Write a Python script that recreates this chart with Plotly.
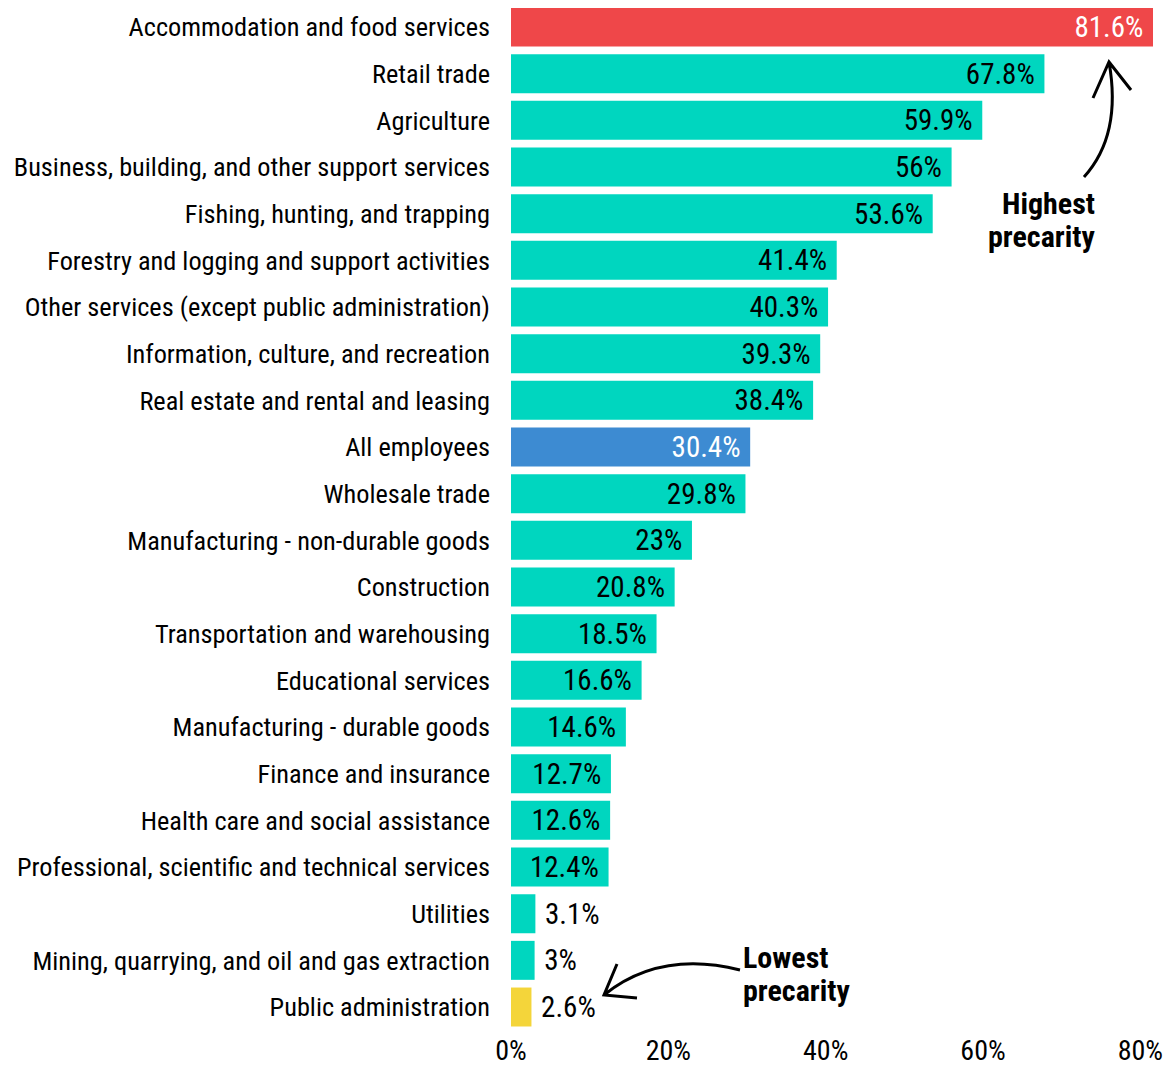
import plotly.graph_objects as go

categories = [
    "Accommodation and food services",
    "Retail trade",
    "Agriculture",
    "Business, building, and other support services",
    "Fishing, hunting, and trapping",
    "Forestry and logging and support activities",
    "Other services (except public administration)",
    "Information, culture, and recreation",
    "Real estate and rental and leasing",
    "All employees",
    "Wholesale trade",
    "Manufacturing - non-durable goods",
    "Construction",
    "Transportation and warehousing",
    "Educational services",
    "Manufacturing - durable goods",
    "Finance and insurance",
    "Health care and social assistance",
    "Professional, scientific and technical services",
    "Utilities",
    "Mining, quarrying, and oil and gas extraction",
    "Public administration",
]
values = [81.6, 67.8, 59.9, 56, 53.6, 41.4, 40.3, 39.3, 38.4, 30.4, 29.8, 23,
          20.8, 18.5, 16.6, 14.6, 12.7, 12.6, 12.4, 3.1, 3, 2.6]
tick_values = [0, 20, 40, 60, 80]
tick_labels = ["0%", "20%", "40%", "60%", "80%"]

RED = "#EF4749"
TEAL = "#00D6BF"
BLUE = "#3D8BD2"
YELLOW = "#F4D53A"

def bar_color(cat):
    if cat == "Accommodation and food services":
        return RED
    if cat == "All employees":
        return BLUE
    if cat == "Public administration":
        return YELLOW
    return TEAL

colors = [bar_color(c) for c in categories]
text_colors = ["white" if c in (RED, BLUE) else "black" for c in colors]
NB = "\u00a0"
positions = ["inside" if v >= 10 else "outside" for v in values]
labels = [f"{v:g}%{NB}" if p == "inside" else f"{NB}{v:g}%" for v, p in zip(values, positions)]

FONT = "Roboto Condensed, Liberation Sans Narrow, DejaVu Sans Condensed, Roboto, sans-serif"
FS_Y = 26.3
FS_V = 29
FS_X = 28
FS_A = 30

fig = go.Figure(go.Bar(
    x=values, y=categories, orientation="h",
    marker=dict(color=colors, line=dict(width=0)),
    text=labels, textposition=positions, insidetextanchor="end",
    insidetextfont=dict(color=text_colors, size=FS_V, family=FONT),
    outsidetextfont=dict(color="black", size=FS_V, family=FONT),
    constraintext="none", cliponaxis=False,
))

# page body has an 8px offset; figure coordinates below are reference pixels minus 8
OFF = 8
W, H = 1173 - OFF, 1069 - OFF
L, R, T, B = 511 - OFF, 20, 0, 31
pw, ph = W - L - R, H - T - B

def px(x):
    return (x - OFF - L) / pw

def py(y):
    return (H - B - (y - OFF)) / ph

hi_path = (f"M {px(1084)},{py(177)} Q {px(1122)},{py(135)} {px(1109)},{py(62)}"
           f" M {px(1093)},{py(98)} L {px(1109)},{py(62)} L {px(1131)},{py(90)}")
lo_path = (f"M {px(740)},{py(970)} Q {px(660)},{py(950)} {px(604)},{py(995)}"
           f" M {px(617)},{py(964)} L {px(604)},{py(995)} L {px(637)},{py(998)}")

shapes = [
    dict(type="path", xref="paper", yref="paper", path=hi_path,
         line=dict(color="black", width=3)),
    dict(type="path", xref="paper", yref="paper", path=lo_path,
         line=dict(color="black", width=3)),
]

def ann(text, x, y, anchor):
    return dict(xref="paper", yref="paper", x=px(x), y=py(y), text=f"<b>{text}</b>",
                showarrow=False, xanchor=anchor, yanchor="middle",
                font=dict(size=FS_A, family=FONT, color="black"))

annotations = [
    ann("Highest", 1097, 203, "right"),
    ann("precarity", 1097, 236, "right"),
    ann("Lowest", 741, 957, "left"),
    ann("precarity", 741, 990, "left"),
]

fig.update_layout(
    width=W, height=H,
    margin=dict(l=L, r=R, t=T, b=B, autoexpand=False),
    plot_bgcolor="white", paper_bgcolor="white",
    bargap=0.165, showlegend=False,
    font=dict(family=FONT, size=FS_Y, color="black"),
    shapes=shapes, annotations=annotations,
    xaxis=dict(range=[0, 81.6], tickmode="array", tickvals=tick_values, ticktext=tick_labels,
               showgrid=False, zeroline=False, showline=False, ticks="",
               ticklabelstandoff=-7,
               tickfont=dict(size=FS_X, family=FONT, color="black")),
    yaxis=dict(range=[21.664, -0.407], showgrid=False, zeroline=False, showline=False,
               ticks="", ticklabelstandoff=20,
               tickfont=dict(size=FS_Y, family=FONT, color="black")),
)

fig.write_html("out.html")
